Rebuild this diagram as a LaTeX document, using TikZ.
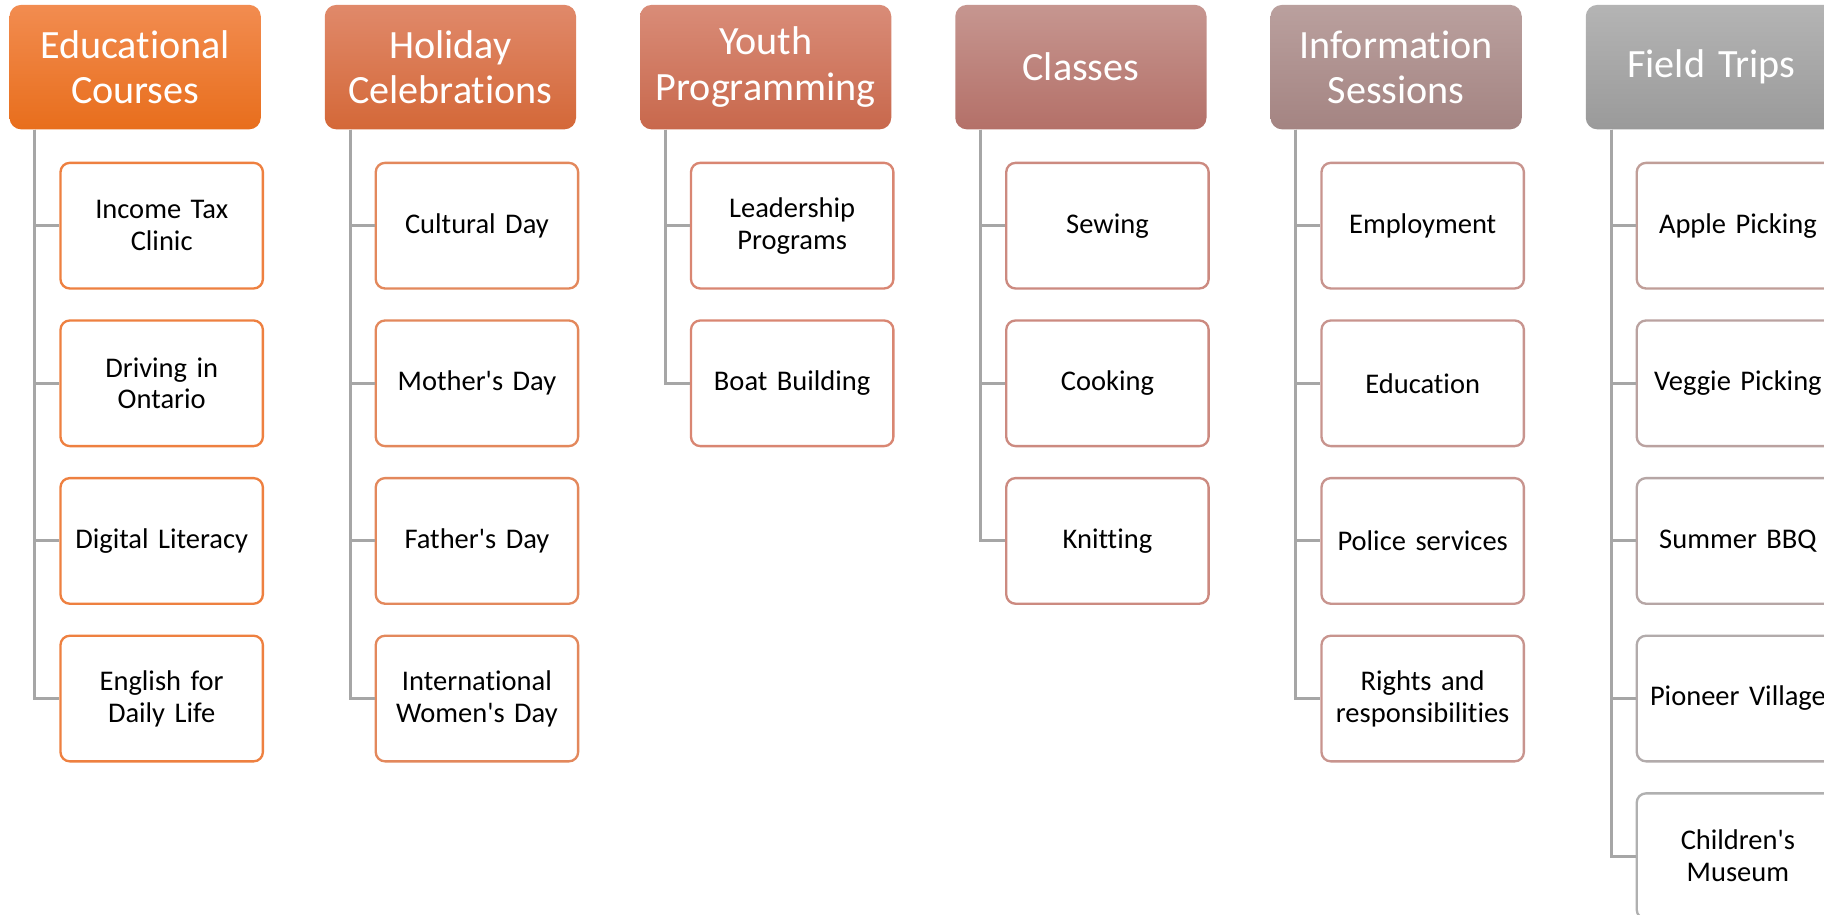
\documentclass[tikz,border=0pt]{standalone}
\usepackage{fontspec}
\setmainfont{Carlito}[Ligatures={NoCommon}]

\definecolor{link}{HTML}{A6A6A6}
\definecolor{eduA}{HTML}{F28C50}
\definecolor{eduB}{HTML}{E86E1C}
\definecolor{eduC}{HTML}{EE8040}
\definecolor{holA}{HTML}{E0896A}
\definecolor{holB}{HTML}{D46838}
\definecolor{holC}{HTML}{E3885C}
\definecolor{youA}{HTML}{D98C78}
\definecolor{youB}{HTML}{C8684C}
\definecolor{youC}{HTML}{D98672}
\definecolor{clsA}{HTML}{C69690}
\definecolor{clsB}{HTML}{B47068}
\definecolor{clsC}{HTML}{CC8A80}
\definecolor{infA}{HTML}{BAA09E}
\definecolor{infB}{HTML}{A48482}
\definecolor{infC}{HTML}{C8948E}
\definecolor{trpA}{HTML}{B4B4B4}
\definecolor{trpB}{HTML}{9A9A9A}
\definecolor{trpC}{HTML}{C09E98}
\definecolor{trpD}{HTML}{BAA2A0}
\definecolor{trpE}{HTML}{B6A6A5}
\definecolor{trpF}{HTML}{B2ABAB}
\definecolor{trpG}{HTML}{B0B0B0}

\tikzset{
  head/.style={anchor=north west, rounded corners=10pt, minimum width=216pt,
    minimum height=107pt, inner sep=0pt, text width=210pt, align=center,
    text=white, font=\fontsize{34.5}{39}\selectfont},
  item/.style={anchor=north west, draw=#1, line width=2pt, fill=white,
    rounded corners=8pt, minimum width=174pt, minimum height=108pt,
    inner sep=0pt, text width=172pt, align=center,
    font=\fontsize{24.5}{27.5}\selectfont},
  wire/.style={draw=link, line width=2.5pt}
}

\begin{document}
\begin{tikzpicture}[x=1pt,y=-1pt]
		\clip (0,0) rectangle (1568,786) ;
		\fill[white] (0,0) rectangle (1568,786) ;

		% headers
		\node[head, top color=eduA, bottom color=eduB] (edu) at (8,4) {Educational\\Courses} ;
		\node[head, top color=holA, bottom color=holB] (hol) at (279,4) {Holiday\\Celebrations} ;
		\node[head, top color=youA, bottom color=youB] (youth) at (550,4) {Youth\\Programming} ;
		\node[head, top color=clsA, bottom color=clsB] (cls) at (821,4) {Classes} ;
		\node[head, top color=infA, bottom color=infB] (info) at (1092,4) {Information\\Sessions} ;
		\node[head, top color=trpA, bottom color=trpB] (trips) at (1363,4) {Field Trips} ;

		% Educational Courses
		\node[item=eduC] (edu1) at (51,139) {Income Tax\\Clinic} ;
		\node[item=eduC] (edu2) at (51,274.5) {Driving in\\Ontario} ;
		\node[item=eduC] (edu3) at (51,410) {Digital Literacy} ;
		\node[item=eduC] (edu4) at (51,545.5) {English for\\Daily Life} ;

		% Holiday Celebrations
		\node[item=holC] (hol1) at (322,139) {Cultural Day} ;
		\node[item=holC] (hol2) at (322,274.5) {Mother\textquotesingle s Day} ;
		\node[item=holC] (hol3) at (322,410) {Father\textquotesingle s Day} ;
		\node[item=holC] (hol4) at (322,545.5) {International\\Women\textquotesingle s Day} ;

		% Youth Programming
		\node[item=youC] (youth1) at (593,139) {Leadership\\Programs} ;
		\node[item=youC] (youth2) at (593,274.5) {Boat Building} ;

		% Classes
		\node[item=clsC] (cls1) at (864,139) {Sewing} ;
		\node[item=clsC] (cls2) at (864,274.5) {Cooking} ;
		\node[item=clsC] (cls3) at (864,410) {Knitting} ;

		% Information Sessions
		\node[item=infC] (info1) at (1135,139) {Employment} ;
		\node[item=infC] (info2) at (1135,274.5) {Education} ;
		\node[item=infC] (info3) at (1135,410) {Police services} ;
		\node[item=infC] (info4) at (1135,545.5) {Rights and\\responsibilities} ;

		% Field Trips
		\node[item=trpC] (trips1) at (1406,139) {Apple Picking} ;
		\node[item=trpD] (trips2) at (1406,274.5) {Veggie Picking} ;
		\node[item=trpE] (trips3) at (1406,410) {Summer BBQ} ;
		\node[item=trpF] (trips4) at (1406,545.5) {Pioneer Village} ;
		\node[item=trpG] (trips5) at (1406,681) {Children\textquotesingle s\\Museum} ;

		% connectors
		\draw[wire] ([xshift=22pt]edu.south west) |- (edu1.west) ;
		\draw[wire] ([xshift=22pt]edu.south west) |- (edu2.west) ;
		\draw[wire] ([xshift=22pt]edu.south west) |- (edu3.west) ;
		\draw[wire] ([xshift=22pt]edu.south west) |- (edu4.west) ;

		\draw[wire] ([xshift=22pt]hol.south west) |- (hol1.west) ;
		\draw[wire] ([xshift=22pt]hol.south west) |- (hol2.west) ;
		\draw[wire] ([xshift=22pt]hol.south west) |- (hol3.west) ;
		\draw[wire] ([xshift=22pt]hol.south west) |- (hol4.west) ;

		\draw[wire] ([xshift=22pt]youth.south west) |- (youth1.west) ;
		\draw[wire] ([xshift=22pt]youth.south west) |- (youth2.west) ;

		\draw[wire] ([xshift=22pt]cls.south west) |- (cls1.west) ;
		\draw[wire] ([xshift=22pt]cls.south west) |- (cls2.west) ;
		\draw[wire] ([xshift=22pt]cls.south west) |- (cls3.west) ;

		\draw[wire] ([xshift=22pt]info.south west) |- (info1.west) ;
		\draw[wire] ([xshift=22pt]info.south west) |- (info2.west) ;
		\draw[wire] ([xshift=22pt]info.south west) |- (info3.west) ;
		\draw[wire] ([xshift=22pt]info.south west) |- (info4.west) ;

		\draw[wire] ([xshift=22pt]trips.south west) |- (trips1.west) ;
		\draw[wire] ([xshift=22pt]trips.south west) |- (trips2.west) ;
		\draw[wire] ([xshift=22pt]trips.south west) |- (trips3.west) ;
		\draw[wire] ([xshift=22pt]trips.south west) |- (trips4.west) ;
		\draw[wire] ([xshift=22pt]trips.south west) |- (trips5.west) ;
	\end{tikzpicture}
\end{document}
